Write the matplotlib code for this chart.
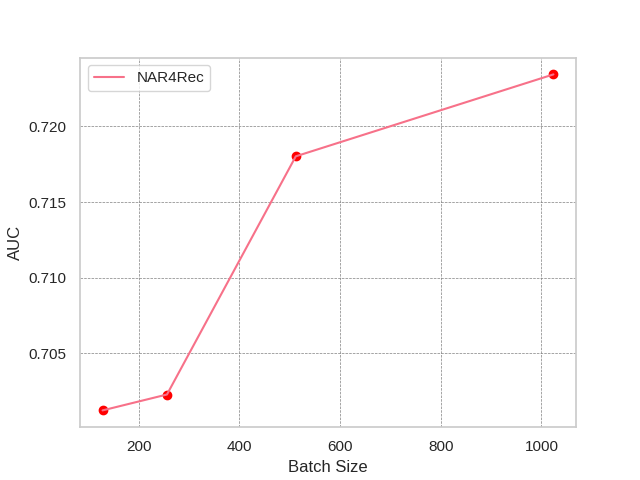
import matplotlib
matplotlib.use("Agg")
import matplotlib.pyplot as plt
import seaborn as sns

# batch size vs AUC
batch_sizes = [128, 256, 512, 1024]
auc_values = [0.70124, 0.70229, 0.71802, 0.72343]
series_name = "NAR4Rec"

sns.set_theme(style="whitegrid")
plt.rcParams['font.family'] = ['Liberation Sans', 'DejaVu Sans']

fig, ax = plt.subplots(figsize=(6.4, 4.8), dpi=100)
ax.scatter(batch_sizes, auc_values, color="red", zorder=2)
ax.plot(batch_sizes, auc_values, color="#f77189", label=series_name, zorder=3)

ax.set_xlabel("Batch Size")
ax.set_ylabel("AUC")
ax.grid(True, linestyle="--", color="gray", linewidth=0.5)
ax.legend(loc="upper left")

fig.savefig("out.png")
